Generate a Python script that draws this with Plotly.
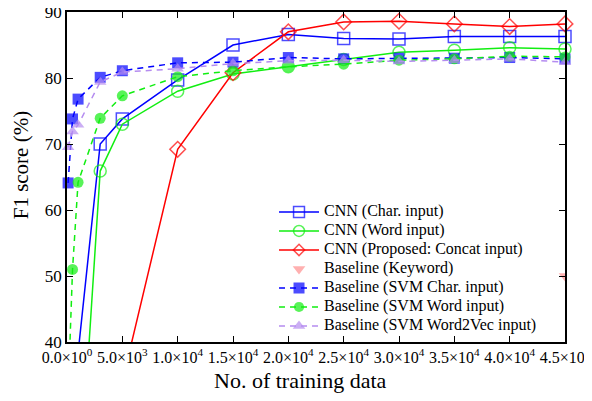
import plotly.graph_objects as go

x_cnn = [1000, 3000, 5000, 10000, 15000, 20000, 25000, 30000, 35000, 40000, 45000]
cnn_char = [38.3, 70.0, 73.8, 79.7, 85.0, 86.6, 86.0, 85.9, 86.3, 86.3, 86.3]
cnn_word = [14.0, 65.9, 73.0, 78.0, 80.6, 81.7, 82.8, 83.9, 84.2, 84.6, 84.4]
cnn_concat = [None, None, 34.0, 69.2, 80.8, 87.0, 88.5, 88.6, 88.2, 87.8, 88.2]

x_svm = [100, 500, 1000, 3000, 5000, 10000, 15000, 20000, 25000, 30000, 35000, 40000, 45000]
svm_char = [64.1, 73.8, 76.8, 80.1, 81.1, 82.3, 82.4, 83.1, 82.9, 83.0, 83.0, 83.1, 82.9]
svm_word = [32.0, 51.0, 64.2, 73.9, 77.3, 80.2, 81.1, 81.7, 82.1, 82.7, 82.9, 83.3, 83.2]
svm_w2v = [69.5, 71.9, 72.9, 79.4, 80.9, 81.4, 82.2, 82.6, 82.7, 82.5, 82.7, 82.9, 82.4]

x_keyword = [45000]
keyword = [50.0]

x_ticks = [0, 5000, 10000, 15000, 20000, 25000, 30000, 35000, 40000, 45000]
x_ticktext = ["0.0×10<sup>0</sup>", "5.0×10<sup>3</sup>", "1.0×10<sup>4</sup>", "1.5×10<sup>4</sup>",
              "2.0×10<sup>4</sup>", "2.5×10<sup>4</sup>", "3.0×10<sup>4</sup>", "3.5×10<sup>4</sup>",
              "4.0×10<sup>4</sup>", "4.5×10<sup>4</sup>"]
y_ticks = [40, 50, 60, 70, 80, 90]

x_title = "No. of training data"
y_title = "F1 score (%)"

YMIN = 40

def sizes(vals, s):
    return [0 if (v is None or v < YMIN) else s for v in vals]

def leg(name):
    return '<span style="font-size:16px">' + name + '</span>'

BLUE = "#0000ff"
GREEN = "#11ee11"
RED = "#ff0000"
PINK = "#ffb0b0"
PURPLE = "#b58cf0"

fig = go.Figure()

def add(name, x, y, color, symbol, size, dash, lw=1.5, mlw=1.5):
    fig.add_trace(go.Scatter(
        x=x, y=y, name=leg(name), mode="lines+markers", cliponaxis=False,
        line=dict(color=color, width=lw, dash=dash),
        marker=dict(symbol=symbol, size=sizes(y, size), color=color,
                    line=dict(color=color, width=mlw)),
    ))

add("CNN (Char. input)", x_cnn, cnn_char, BLUE, "square-open", 12, "solid")
add("CNN (Word input)", x_cnn, cnn_word, GREEN, "circle-open", 12, "solid")
add("CNN (Proposed: Concat input)", x_cnn, cnn_concat, RED, "diamond-open", 12, "solid")
fig.add_trace(go.Scatter(
    x=x_keyword, y=keyword, name=leg("Baseline (Keyword)"), mode="markers",
    marker=dict(symbol="triangle-down", size=11, color=PINK),
))
add("Baseline (SVM Char. input)", x_svm, svm_char, BLUE, "square", 11, "6px,5px", mlw=0)
add("Baseline (SVM Word input)", x_svm, svm_word, GREEN, "circle", 11, "6px,5px", mlw=0)
add("Baseline (SVM Word2Vec input)", x_svm, svm_w2v, PURPLE, "triangle-up", 11, "6px,5px", mlw=0)

axis_common = dict(
    showline=True, linecolor="black", linewidth=1.5, mirror="ticks",
    ticks="inside", ticklen=6, tickcolor="black", tickwidth=1,
    showgrid=False, zeroline=False, automargin=False, ticklabeloverflow="allow",
)

fig.update_layout(
    width=584, height=393,
    margin=dict(l=59, r=27, t=4, b=59, autoexpand=False),
    paper_bgcolor="white", plot_bgcolor="white",
    font=dict(family="Liberation Serif", color="black"),
    xaxis=dict(range=[0, 45000], tickvals=x_ticks, ticktext=x_ticktext,
               tickfont=dict(size=16), **axis_common),
    yaxis=dict(range=[40, 90], tickvals=y_ticks, tickfont=dict(size=17),
               **axis_common),
    legend=dict(x=0.4157, y=0.438, xanchor="left", yanchor="top", bgcolor="rgba(0,0,0,0)",
                font=dict(size=10), tracegroupgap=0, itemwidth=40),
    showlegend=True,
    annotations=[
        dict(text=x_title, xref="paper", yref="paper", x=0.468, y=-0.118,
             xanchor="center", yanchor="middle", showarrow=False, font=dict(size=22)),
        dict(text=y_title, xref="paper", yref="paper", x=-0.092, y=0.536,
             xanchor="center", yanchor="middle", showarrow=False, textangle=-90, font=dict(size=21)),
    ],
)

fig.write_html("out.html")
